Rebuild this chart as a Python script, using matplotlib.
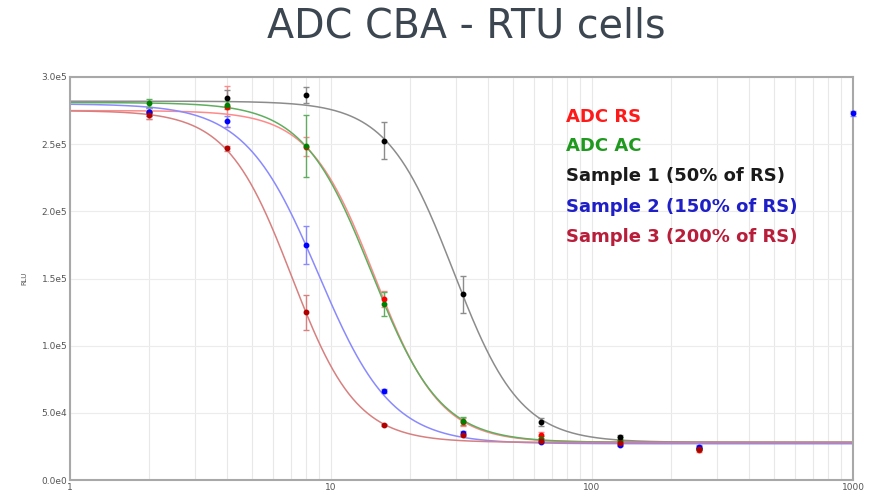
import numpy as np
import matplotlib
matplotlib.use("Agg")
import matplotlib.pyplot as plt
from matplotlib.ticker import FixedLocator, FixedFormatter, LogLocator, NullFormatter

# dilution points (x) and RLU readings (thousands)
dil = [2, 4, 8, 16, 32, 64, 128, 256]

rs_y = [273, 278, 248, 134.5, 43, 33.5, 28, 22]
rs_err = [4, 15, 7, 6, 3, 2, 2, 1]
ac_y = [280.6, 279, 248.9, 130.8, 44, 30.5, 29.8, 23]
ac_err = [3, 3, 23, 9, 3, 2, 2, 1]
s1_y = [274, 284.6, 286.6, 252.6, 138.2, 43, 31.8, 24]
s1_err = [3, 6, 6, 14, 14, 3, 2, 1]
s2_x = [2, 4, 8, 16, 32, 64, 128, 256, 1000]
s2_y = [274, 267, 175, 66.5, 35, 28.5, 26, 24.8, 273]
s2_err = [3, 4, 14, 1.5, 1.5, 1, 1, 1, 2]
s3_y = [271.7, 247, 124.8, 40.9, 33.5, 29, 27.5, 23]
s3_err = [3, 2, 13, 1, 1, 1, 1, 1]

# 4PL fit parameters: top, bottom, EC50, hill
rs_fit = [275, 28, 14.7, 3.46]
ac_fit = [281, 28, 14.3, 3.3]
s1_fit = [282, 28, 29.5, 3.4]
s2_fit = [280, 27, 8.94, 3.1]
s3_fit = [275, 28, 7.07, 3.5]

labels = ["ADC RS", "ADC AC", "Sample 1 (50% of RS)",
          "Sample 2 (150% of RS)", "Sample 3 (200% of RS)"]
text_cols = ["#ff1a1a", "#1f9a1f", "#1a1a1a", "#1f1fc8", "#b81d3a"]
mark_cols = ["#ff0000", "#008000", "#000000", "#0000ff", "#b00000"]
line_cols = ["#ff8a8a", "#5fae5f", "#8c8c8c", "#8a8aff", "#d88080"]


def four_pl(x, p):
    top, bot, c, h = p
    return bot + (top - bot) / (1 + (x / c) ** h)


fig = plt.figure(figsize=(8.76, 4.95), dpi=100)
ax = fig.add_axes([70 / 876, 15 / 495, 783 / 876, 403 / 495])

xs = np.logspace(0, 3, 400)
series = [
    (dil, rs_y, rs_err, rs_fit),
    (dil, ac_y, ac_err, ac_fit),
    (dil, s1_y, s1_err, s1_fit),
    (s2_x, s2_y, s2_err, s2_fit),
    (dil, s3_y, s3_err, s3_fit),
]
for i, (x, y, e, p) in enumerate(series):
    ax.plot(xs, np.array(four_pl(xs, p)) * 1000, color=line_cols[i], lw=1.1, zorder=2)
    ax.errorbar(x, np.array(y) * 1000, yerr=np.array(e) * 1000, fmt="o",
                ms=3.2, color=mark_cols[i], ecolor=line_cols[i], elinewidth=1,
                capsize=2.5, capthick=1, zorder=3, clip_on=False)

ax.set_xscale("log")
ax.set_xlim(1, 1000)
ax.set_ylim(0, 300000)

yt = [0, 50000, 100000, 150000, 200000, 250000, 300000]
ax.yaxis.set_major_locator(FixedLocator(yt))
ax.yaxis.set_major_formatter(FixedFormatter(["0.0e0", "5.0e4", "1.0e5", "1.5e5",
                                             "2.0e5", "2.5e5", "3.0e5"]))
ax.xaxis.set_major_locator(FixedLocator([1, 10, 100, 1000]))
ax.xaxis.set_major_formatter(FixedFormatter(["1", "10", "100", "1000"]))
ax.xaxis.set_minor_locator(LogLocator(base=10, subs=np.arange(2, 10)))
ax.xaxis.set_minor_formatter(NullFormatter())

ax.grid(True, which="both", axis="x", color="#e8e8e8", lw=0.8)
ax.grid(True, which="major", axis="y", color="#ececec", lw=0.8)
ax.set_axisbelow(True)
for s in ax.spines.values():
    s.set_color("#a8a8a8")
    s.set_linewidth(1.5)
ax.tick_params(which="both", length=0, labelsize=6.5, labelcolor="#555555", pad=2)
ax.set_ylabel("RLU", fontsize=5, color="#555555", labelpad=10)

fig.text(466 / 876, 1 - 26 / 495, "ADC CBA - RTU cells", ha="center", va="center",
         fontsize=28.5, color="#3c4650", family="DejaVu Sans")

legend_y = [117, 146, 176, 207, 237]
for lab, col, ly in zip(labels, text_cols, legend_y):
    fig.text(566 / 876, 1 - ly / 495, lab, ha="left", va="center", fontsize=13,
             fontweight="bold", color=col, family="DejaVu Sans")

fig.savefig("out.png", dpi=100)
